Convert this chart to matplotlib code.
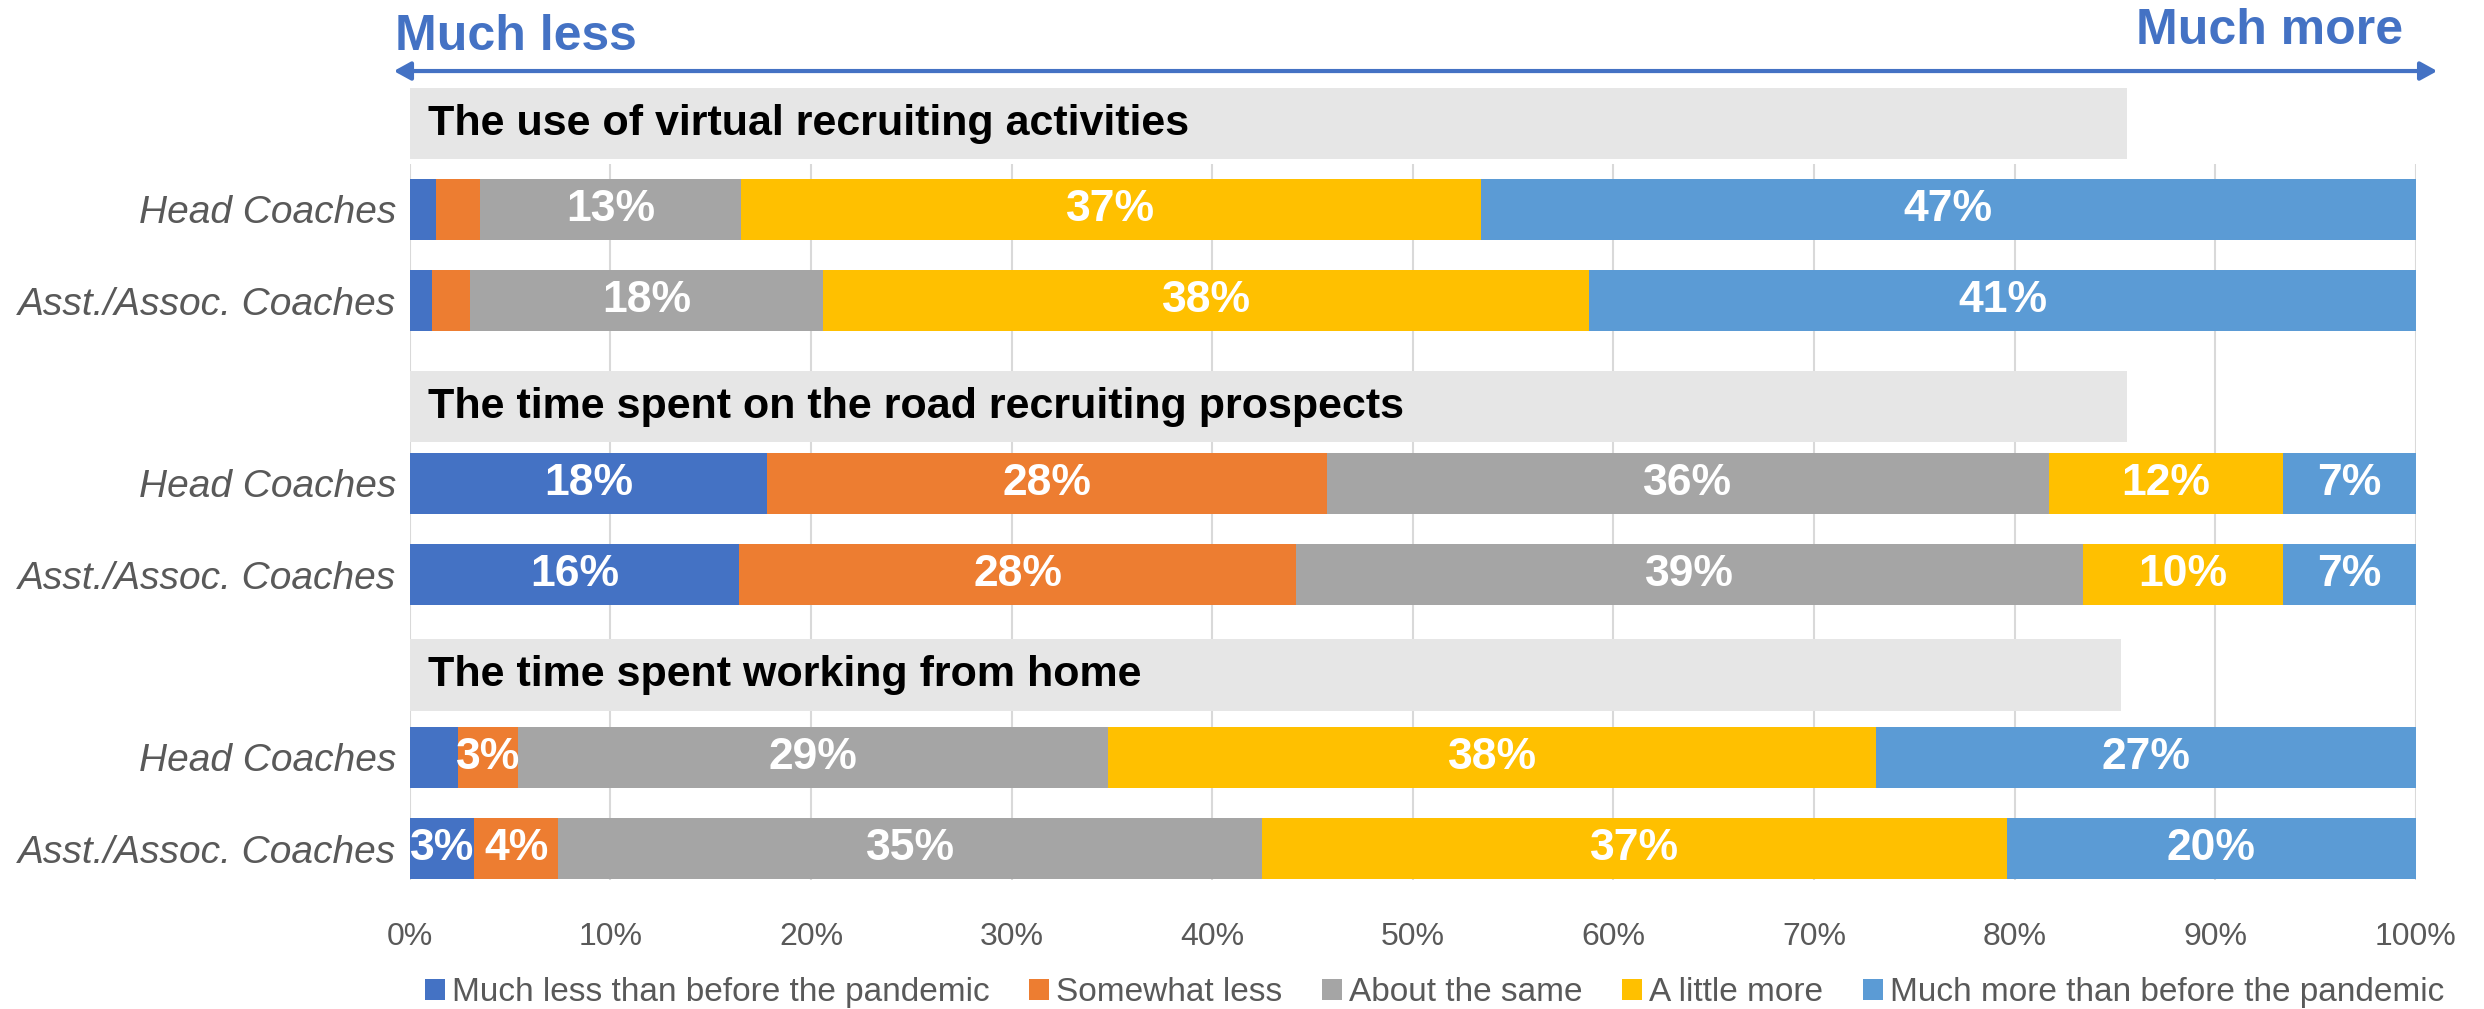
"""
Recreación de una gráfica de barras apiladas al 100% sobre el reclutamiento
durante la pandemia (entrenadores principales vs asistentes).
"""

import matplotlib.pyplot as plt
from matplotlib.patches import Rectangle, FancyArrowPatch

# Datos de la gráfica
categorias = ["Much less than before the pandemic", "Somewhat less",
              "About the same", "A little more",
              "Much more than before the pandemic"]
colores = ["#4472C4", "#ED7D31", "#A5A5A5", "#FFC000", "#5B9BD5"]

titulos = ["The use of virtual recruiting activities",
           "The time spent on the road recruiting prospects",
           "The time spent working from home"]
grupos = ["Head Coaches", "Asst./Assoc. Coaches"]

virtual_head = [1.3, 2.2, 13.0, 36.9, 46.6]
virtual_asst = [1.1, 1.9, 17.6, 38.2, 41.2]
road_head = [17.8, 27.9, 36.0, 11.7, 6.6]
road_asst = [16.4, 27.8, 39.2, 10.0, 6.6]
home_head = [2.4, 3.0, 29.4, 38.3, 26.9]
home_asst = [3.2, 4.2, 35.1, 37.1, 20.4]

ticks_x = [0, 10, 20, 30, 40, 50, 60, 70, 80, 90, 100]

GRIS_TEXTO = "#595959"
FUENTE = ["Liberation Sans", "DejaVu Sans"]


def main():
    """Dibuja la gráfica y la guarda en out.png"""
    fig = plt.figure(figsize=(24.84, 10.09), dpi=100)
    ax = fig.add_axes([0.165, 0.1278, 0.8075, 0.7097])

    filas = [virtual_head, virtual_asst, road_head, road_asst,
             home_head, home_asst]
    # posiciones de las barras (filas 0, 3 y 6 quedan para los títulos)
    pos_y = [1, 2, 4, 5, 7, 8]
    # cajas grises de los títulos: (arriba, abajo, ancho en %)
    cajas = [(-0.33, 0.45, 85.6), (2.77, 3.55, 85.6), (5.70, 6.49, 85.3)]

    # barras apiladas
    for y, valores in zip(pos_y, filas):
        izq = 0.0
        for i, v in enumerate(valores):
            ax.barh(y, v, left=izq, height=0.67, color=colores[i],
                    zorder=3, label=categorias[i] if y == 1 else None)
            # solo se etiquetan los segmentos con sitio suficiente
            if v >= 2.5:
                ax.text(izq + v / 2, y, f"{v:.0f}%", ha="center",
                        va="center", color="white", fontsize=32,
                        fontweight="bold", family=FUENTE, zorder=4)
            izq += v

    # cajas de título
    for (arriba, abajo, ancho), titulo in zip(cajas, titulos):
        ax.add_patch(Rectangle((0, arriba), ancho, abajo - arriba,
                               facecolor="#E6E6E6", edgecolor="none",
                               zorder=2, clip_on=False))
        ax.text(0.9, (arriba + abajo) / 2, titulo, ha="left", va="center",
                fontsize=31, fontweight="bold", family=FUENTE,
                color="black", zorder=4, clip_on=False)

    # ejes
    ax.set_xlim(0, 100)
    ax.set_ylim(8.344, 0.502)
    ax.set_xticks(ticks_x)
    ax.set_xticklabels([f"{t}%" for t in ticks_x], fontsize=23,
                       color=GRIS_TEXTO, family=FUENTE)
    ax.set_yticks(pos_y)
    ax.set_yticklabels(grupos * 3, fontsize=28, style="italic",
                       color=GRIS_TEXTO, family=FUENTE)
    ax.tick_params(axis="x", length=0, pad=30)
    ax.tick_params(axis="y", length=0, pad=10)
    ax.xaxis.grid(True, color="#D9D9D9", linewidth=1.5)
    ax.set_axisbelow(True)
    for lado in ax.spines.values():
        lado.set_visible(False)

    # flecha de "menos" a "más"
    fig.add_artist(FancyArrowPatch(
        (0.1574, 0.9296), (0.9823, 0.9296), transform=fig.transFigure,
        arrowstyle="<|-|>,head_length=1.0,head_width=0.55",
        mutation_scale=10, color="#4472C4", linewidth=3))
    fig.text(0.159, 0.963, "Much less", ha="left", va="center",
             fontsize=36, fontweight="bold", color="#4472C4", family=FUENTE)
    fig.text(0.9674, 0.969, "Much more", ha="right", va="center",
             fontsize=36, fontweight="bold", color="#4472C4", family=FUENTE)

    # leyenda
    ax.legend(loc="center", bbox_to_anchor=(0.5775, 0.016),
              bbox_transform=fig.transFigure, ncol=5, frameon=False,
              prop={"family": FUENTE, "size": 24}, labelcolor=GRIS_TEXTO,
              handlelength=0.6, handleheight=0.6, handletextpad=0.2,
              columnspacing=1.2)

    fig.savefig("out.png", dpi=100)


if __name__ == "__main__":
    main()
